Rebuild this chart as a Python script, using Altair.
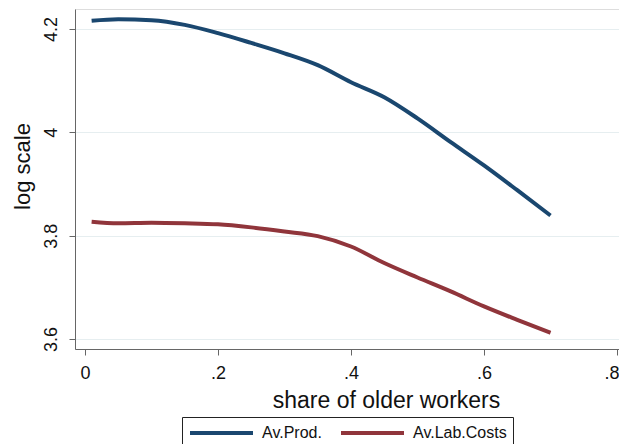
import altair as alt
import pandas as pd

share = [0.01, 0.05, 0.10, 0.15, 0.20, 0.25, 0.30, 0.35, 0.40, 0.45, 0.50, 0.55, 0.60, 0.65, 0.70]
av_prod = [4.216, 4.219, 4.217, 4.208, 4.192, 4.173, 4.153, 4.130, 4.097, 4.068, 4.027, 3.981, 3.936, 3.888, 3.839]
av_lab_costs = [3.827, 3.824, 3.825, 3.824, 3.822, 3.816, 3.808, 3.799, 3.779, 3.747, 3.719, 3.692, 3.663, 3.637, 3.612]
series_names = ["Av.Prod.", "Av.Lab.Costs"]
series_colors = ["#1a476f", "#90353b"]
x_ticks = [0, 0.2, 0.4, 0.6, 0.8]
y_ticks = [3.6, 3.8, 4.0, 4.2]

rows = []
for x, a, b in zip(share, av_prod, av_lab_costs):
    rows.append({"share": x, "value": a, "series": series_names[0]})
    rows.append({"share": x, "value": b, "series": series_names[1]})
df = pd.DataFrame(rows)

FONT = "Liberation Sans"

chart = alt.Chart(df).mark_line(strokeWidth=4, interpolate="monotone").encode(
    x=alt.X("share:Q",
            scale=alt.Scale(domain=[-0.015, 0.803], nice=False, zero=False),
            axis=alt.Axis(values=x_ticks, grid=False,
                          labelExpr="datum.value == 0 ? '0' : replace(format(datum.value, '.1f'), '0.', '.')",
                          title="share of older workers", titleFontSize=23, titleFontWeight="normal",
                          titleX=311, titleY=58, titleBaseline="alphabetic", titleAlign="center",
                          labelFontSize=18, labelPadding=9, tickSize=6,
                          labelFlush=3, labelFlushOffset=2, labelOverlap=False,
                          domainColor="#666666", tickColor="#666666", labelColor="#111111",
                          titleColor="#111111", labelFont=FONT, titleFont=FONT)),
    y=alt.Y("value:Q",
            scale=alt.Scale(domain=[3.5806, 4.2387], nice=False, zero=False),
            axis=alt.Axis(values=y_ticks, grid=True, gridColor="#e6eef0", gridWidth=1,
                          labelExpr="datum.value == 4 ? '4' : format(datum.value, '.1f')",
                          labelAngle=270, labelAlign="center", labelBaseline="bottom",
                          labelFontSize=18, labelPadding=9, tickSize=6,
                          title="log scale", titleFontSize=22, titleFontWeight="normal",
                          titleAngle=270, titleX=-53, titleY=157, titleBaseline="middle", titleAlign="center",
                          domainColor="#666666", tickColor="#666666", labelColor="#111111",
                          titleColor="#111111", labelFont=FONT, titleFont=FONT)),
    color=alt.Color("series:N",
                    scale=alt.Scale(domain=series_names, range=series_colors),
                    legend=alt.Legend(orient="none", legendX=107, legendY=408, direction="horizontal",
                                      title=None, symbolType="stroke", symbolSize=3969,
                                      symbolStrokeWidth=4, labelFontSize=16, labelFont=FONT,
                                      labelColor="#111111", labelOffset=7, columnPadding=17,
                                      clipHeight=20, padding=6, strokeColor="#222222",
                                      fillColor="white")),
).properties(
    width=544, height=340,
    autosize=alt.AutoSizeParams(type="none"),
    padding={"left": 67, "top": 1, "right": 0, "bottom": 95},
).configure_view(stroke=None).configure(background="white")

chart.save("out.html", embed_options={"renderer": "svg", "actions": False})
